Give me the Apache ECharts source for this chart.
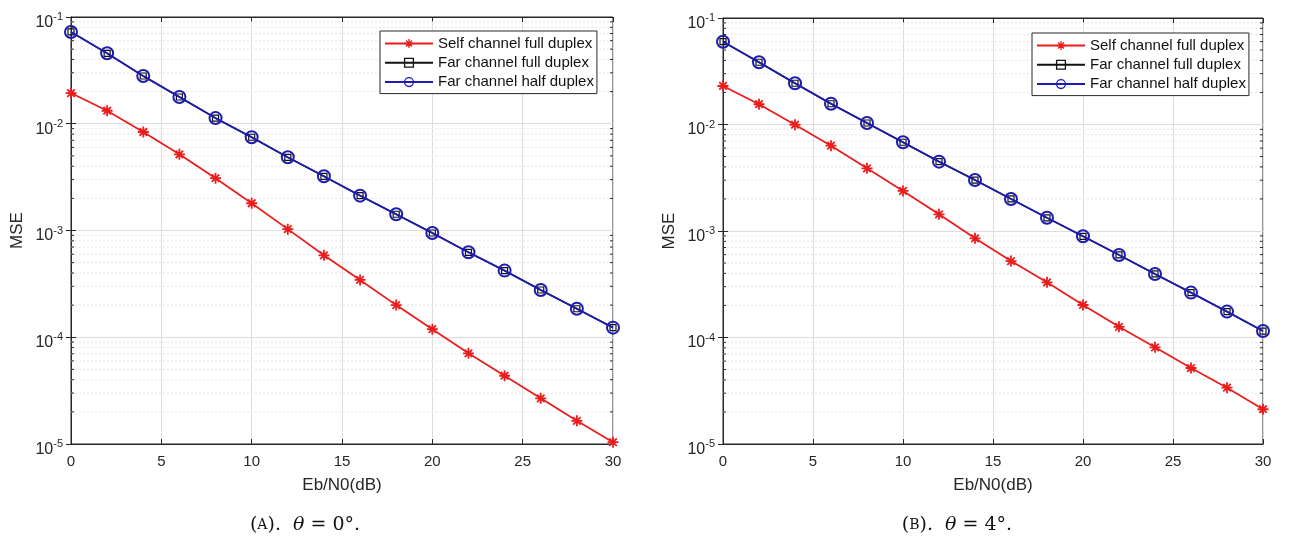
<!DOCTYPE html>
<html>
<head>
<meta charset="utf-8">
<script src="https://cdn.jsdelivr.net/npm/echarts@6/dist/echarts.min.js"></script>
<style>
html,body{margin:0;padding:0;background:#fff;}
#chart{width:1295px;height:541px;}
</style>
</head>
<body>
<div id="chart"></div>
<script>
// ---- data ----
const ebn0 = [0, 2, 4, 6, 8, 10, 12, 14, 16, 18, 20, 22, 24, 26, 28, 30];
const seriesNames = ['Self channel full duplex', 'Far channel full duplex', 'Far channel half duplex'];

// (A) theta = 0 deg
const selfFullA = [0.0194, 0.01324, 0.00837, 0.00517, 0.00309, 0.0018, 0.00103, 0.000586, 0.000344, 0.0002, 0.000119, 0.0000707, 0.0000436, 0.0000268, 0.0000165, 0.0000104];
const farFullA  = [0.0724, 0.0457, 0.0280, 0.0178, 0.0113, 0.00747, 0.00485, 0.00322, 0.00212, 0.00142, 0.000948, 0.000625, 0.000421, 0.000277, 0.000185, 0.000123];
const farHalfA  = [0.0724, 0.0457, 0.0280, 0.0178, 0.0113, 0.00747, 0.00485, 0.00322, 0.00212, 0.00142, 0.000948, 0.000625, 0.000421, 0.000277, 0.000185, 0.000123];

// (B) theta = 4 deg
const selfFullB = [0.0230, 0.0155, 0.00995, 0.00632, 0.00388, 0.00238, 0.001435, 0.000853, 0.000522, 0.00033, 0.000202, 0.000126, 0.0000809, 0.0000517, 0.0000338, 0.0000212];
const farFullB  = [0.0599, 0.0384, 0.0244, 0.01567, 0.01033, 0.00681, 0.00448, 0.00301, 0.00200, 0.00133, 0.000892, 0.000596, 0.000395, 0.000264, 0.000175, 0.000115];
const farHalfB  = [0.0599, 0.0384, 0.0244, 0.01567, 0.01033, 0.00681, 0.00448, 0.00301, 0.00200, 0.00133, 0.000892, 0.000596, 0.000395, 0.000264, 0.000175, 0.000115];

const xTicks = [0, 5, 10, 15, 20, 25, 30];
const yDecades = [-5, -4, -3, -2, -1];
const xLabel = 'Eb/N0(dB)';
const yLabel = 'MSE';
const captions = [['A', '0°.'], ['B', '4°.']];

// ---- styles ----
const RED = '#ec1c1c', BLUE = '#1c1cb0', BLACK = '#111111', AX = '#262626';
const FONT = 'Liberation Sans, Arial, sans-serif';
const asterisk = 'path://M5,0L5,10M0,5L10,5M1.6,1.6L8.4,8.4M1.6,8.4L8.4,1.6';
const XMIN = xTicks[0], XMAX = xTicks[xTicks.length - 1];

const minorVals = [];
for (let e = yDecades[0]; e < yDecades[yDecades.length - 1]; e++) {
  for (let k = 2; k <= 9; k++) minorVals.push(+(k * Math.pow(10, e)).toPrecision(3));
}

const pair = arr => ebn0.map((x, i) => [x, arr[i]]);

const grids = [
  {left: 71, right: 682, top: 17, bottom: 97, show: true, borderColor: AX, borderWidth: 1, backgroundColor: '#fff'},
  {left: 723, right: 32, top: 18, bottom: 97, show: true, borderColor: AX, borderWidth: 1, backgroundColor: '#fff'}
];

const xAxes = [], yAxes = [], series = [], legends = [], graphics = [];
const dataSets = [[selfFullA, farFullA, farHalfA], [selfFullB, farFullB, farHalfB]];

// minor grid lines + minor ticks drawn through the axis scales
function minorRender(params, api) {
  const v = api.value(1);
  const a = api.coord([XMIN, v]);
  const b = api.coord([XMAX, v]);
  return {
    type: 'group',
    children: [
      {type: 'line', shape: {x1: a[0], y1: a[1], x2: b[0], y2: b[1]},
       style: {stroke: '#e6e6e6', lineWidth: 1, lineDash: [2, 2]}, silent: true},
      {type: 'line', shape: {x1: a[0], y1: a[1], x2: a[0] + 3, y2: a[1]},
       style: {stroke: AX, lineWidth: 1}, silent: true},
      {type: 'line', shape: {x1: b[0] - 3, y1: b[1], x2: b[0], y2: b[1]},
       style: {stroke: AX, lineWidth: 1}, silent: true}
    ]
  };
}

grids.forEach((g, gi) => {
  xAxes.push({
    type: 'value', gridIndex: gi, min: XMIN, max: XMAX, interval: 5,
    name: xLabel, nameLocation: 'middle', nameGap: 33,
    nameTextStyle: {fontFamily: FONT, fontSize: 17, color: AX},
    axisLine: {show: true, lineStyle: {color: AX, width: 1}},
    axisTick: {show: true, inside: true, length: 5, lineStyle: {color: AX}},
    axisLabel: {fontFamily: FONT, fontSize: 15, color: AX, margin: 10},
    splitLine: {show: true, lineStyle: {color: '#dddddd', width: 1}}
  });
  xAxes.push({
    type: 'value', gridIndex: gi, position: 'top', min: XMIN, max: XMAX, interval: 5,
    axisLine: {show: true, lineStyle: {color: AX}},
    axisTick: {show: true, inside: true, length: 5, lineStyle: {color: AX}},
    axisLabel: {show: false}, splitLine: {show: false}
  });
  yAxes.push({
    type: 'log', logBase: 10, gridIndex: gi, min: Math.pow(10, yDecades[0]), max: Math.pow(10, yDecades[yDecades.length - 1]),
    name: yLabel, nameLocation: 'middle', nameGap: 45,
    nameTextStyle: {fontFamily: FONT, fontSize: 17, color: AX},
    axisLine: {show: true, lineStyle: {color: AX, width: 1}},
    axisTick: {show: true, inside: true, length: 5, lineStyle: {color: AX}},
    axisLabel: {
      margin: 8,
      formatter: v => '{b|10}{s|' + Math.round(Math.log10(v)) + '}',
      rich: {
        b: {fontFamily: FONT, fontSize: 16, lineHeight: 16, verticalAlign: 'bottom', color: AX},
        s: {fontFamily: FONT, fontSize: 11, lineHeight: 27, color: AX}
      }
    },
    splitLine: {show: true, lineStyle: {color: '#dddddd', width: 1}}
  });
  yAxes.push({
    type: 'log', logBase: 10, gridIndex: gi, position: 'right', min: Math.pow(10, yDecades[0]), max: Math.pow(10, yDecades[yDecades.length - 1]),
    axisLine: {show: true, lineStyle: {color: AX}},
    axisTick: {show: true, inside: true, length: 5, lineStyle: {color: AX}},
    axisLabel: {show: false}, splitLine: {show: false}
  });

  const [sf, ff, fh] = dataSets[gi];
  const xi = gi * 2, yi = gi * 2;
  series.push({
    type: 'custom', xAxisIndex: xi, yAxisIndex: yi, silent: true, z: 1, clip: false,
    data: minorVals.map(v => [XMIN, v]), renderItem: minorRender
  });
  series.push({
    name: seriesNames[0], type: 'line', xAxisIndex: xi, yAxisIndex: yi, data: pair(sf), z: 3,
    symbol: asterisk, symbolSize: 11,
    lineStyle: {color: RED, width: 1.8},
    itemStyle: {color: 'rgba(0,0,0,0)', borderColor: RED, borderWidth: 1.8}
  });
  series.push({
    name: seriesNames[1], type: 'line', xAxisIndex: xi, yAxisIndex: yi, data: pair(ff), z: 4,
    symbol: 'rect', symbolSize: 6,
    lineStyle: {color: BLACK, width: 1.5},
    itemStyle: {color: 'rgba(0,0,0,0)', borderColor: BLACK, borderWidth: 1.2}
  });
  series.push({
    name: seriesNames[2], type: 'line', xAxisIndex: xi, yAxisIndex: yi, data: pair(fh), z: 5,
    symbol: 'circle', symbolSize: 12,
    lineStyle: {color: BLUE, width: 1.8},
    itemStyle: {color: 'rgba(0,0,0,0)', borderColor: BLUE, borderWidth: 2}
  });

  legends.push({
    orient: 'vertical', left: gi === 0 ? 380 : 1032, top: gi === 0 ? 31 : 33,
    data: seriesNames, itemWidth: 48, itemHeight: 11, itemGap: 4.3,
    padding: [5, 3, 4, 4],
    itemStyle: {borderWidth: 1.3},
    backgroundColor: '#fff', borderColor: AX, borderWidth: 1, borderRadius: 0,
    textStyle: {fontFamily: FONT, fontSize: 15, color: '#111', lineHeight: 15},
    selectedMode: false
  });

  graphics.push({
    type: 'text', x: gi === 0 ? 305 : 957, y: 525,
    style: {
      text: '{p|(}{c|' + captions[gi][0] + '}{p|).  }{i|θ}{p| = ' + captions[gi][1] + '}',
      align: 'center', verticalAlign: 'middle',
      rich: {
        p: {fontFamily: 'DejaVu Serif, serif', fontSize: 19, fill: '#111'},
        c: {fontFamily: 'DejaVu Serif, serif', fontSize: 14, fill: '#111'},
        i: {fontFamily: 'DejaVu Serif, serif', fontSize: 19, fontStyle: 'italic', fill: '#111'}
      }
    }
  });
});

const chart = echarts.init(document.getElementById('chart'), null, {renderer: 'canvas'});
chart.setOption({
  animation: false,
  backgroundColor: '#fff',
  grid: grids,
  xAxis: xAxes,
  yAxis: yAxes,
  legend: legends,
  series: series,
  graphic: graphics
});
</script>
</body>
</html>
